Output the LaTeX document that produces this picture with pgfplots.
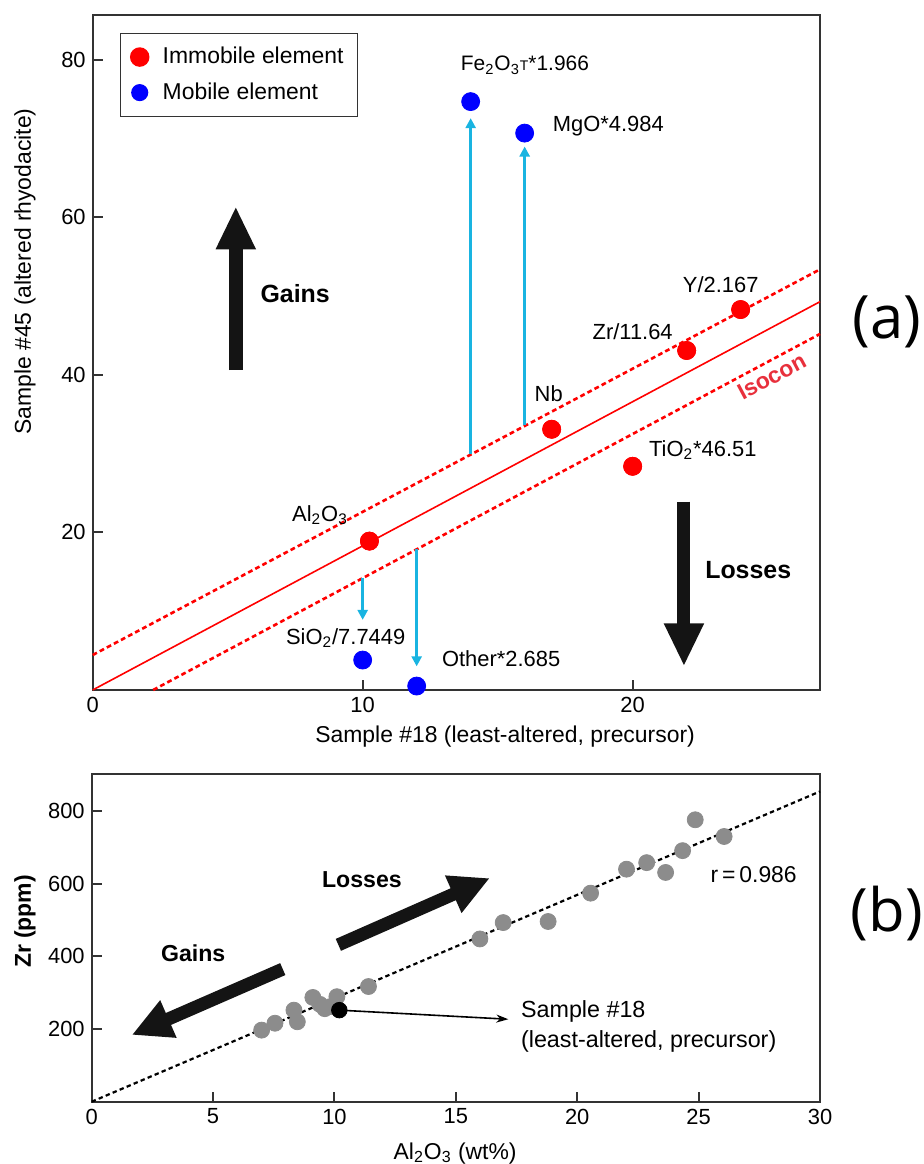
\documentclass[border=0pt]{standalone}
\usepackage{pgfplots}
\pgfplotsset{compat=1.18}
\usetikzlibrary{arrows.meta}
\usepackage{fontspec}
\setmainfont{Liberation Sans}
\newfontfamily\opensans{Open Sans}
\newcommand{\fs}[1]{\fontsize{#1}{#1}\selectfont}
\definecolor{arrcyan}{RGB}{25,180,225}
\definecolor{isored}{RGB}{232,48,60}
\definecolor{ptgray}{RGB}{140,140,140}
\definecolor{bigarr}{RGB}{20,20,20}

\pgfplotsset{
  common/.style={
    scale only axis, anchor=south west, clip=false,
    tick pos=left, tick align=inside,
    major tick length=5bp,
    axis line style={line width=1bp, black!80},
    every tick/.style={line width=1bp, black!80},
    tick label style={font=\fs{11}},
    /pgf/number format/assume math mode=true,
    label style={font=\fs{11.5}},
  }
}

\begin{document}
\begin{tikzpicture}[x=1bp,y=1bp]
\useasboundingbox (0,0) rectangle (462,582);

% ---------------- panel (a)
\begin{axis}[common,
  at={(46.35bp,237bp)}, width=363.65bp, height=337.5bp,
  xmin=0, xmax=26.94, ymin=0, ymax=85.7,
  xtick={0,10,20}, ytick={20,40,60,80},
  xlabel={Sample \#18 (least-altered, precursor)},
  ylabel={Sample \#45 (altered rhyodacite)},
  xlabel style={at={(axis description cs:0.567,-0.069)}, anchor=center},
  ylabel style={at={(axis description cs:-0.093,0.62)}, anchor=center},
  legend style={at={(axis description cs:0.0375,0.974)}, anchor=north west,
    draw=black!80, line width=0.75bp, font=\fs{11.5},
    inner xsep=5bp, inner ysep=5bp, row sep=4bp},
  legend cell align=left,
]
\addplot[only marks, mark=*, mark size=4.5bp, red] coordinates
  {(10.25,18.9) (17,33.1) (20,28.4) (22,43.1) (24,48.3)};
\addlegendentry{\hspace{5bp}Immobile element\hspace{3bp}}
\addplot[only marks, mark=*, mark size=3.9bp, blue] coordinates
  {(14,74.7) (16,70.7) (10,3.8) (12,0.5)};
\addlegendentry{\hspace{5bp}Mobile element}

% isocon lines
\addplot[forget plot, red, line width=0.8bp] coordinates {(0,0) (26.94,49.3)};
\addplot[forget plot, red, line width=1.3bp, dash pattern=on 2.4bp off 1.6bp] coordinates {(0,4.44) (26.94,53.4)};
\addplot[forget plot, red, line width=1.3bp, dash pattern=on 2.4bp off 1.6bp] coordinates {(2.24,0) (26.94,45.2)};

% cyan arrows
\addplot[forget plot, arrcyan, line width=1.5bp, -{Triangle[width=5bp,length=5bp]}] coordinates {(14,29.9) (14,72.6)};
\addplot[forget plot, arrcyan, line width=1.5bp, -{Triangle[width=5bp,length=5bp]}] coordinates {(16,33.6) (16,69.0)};
\addplot[forget plot, arrcyan, line width=1.5bp, -{Triangle[width=5bp,length=5bp]}] coordinates {(10,14.2) (10,8.9)};
\addplot[forget plot, arrcyan, line width=1.5bp, -{Triangle[width=5bp,length=5bp]}] coordinates {(12,17.9) (12,3.0)};

% replot points on top
\addplot[forget plot, only marks, mark=*, mark size=4.5bp, red] coordinates
  {(10.25,18.9) (17,33.1) (20,28.4) (22,43.1) (24,48.3)};
\addplot[forget plot, only marks, mark=*, mark size=4.5bp, blue] coordinates
  {(14,74.7) (16,70.7) (10,3.8) (12,0.5)};

% big arrows
\addplot[forget plot, bigarr, line width=7bp, -{Triangle[width=18.5bp,length=21.5bp]}] coordinates {(5.3,40.6) (5.3,61.4)};
\addplot[forget plot, bigarr, line width=6.5bp, -{Triangle[width=18.5bp,length=21.5bp]}] coordinates {(21.9,23.9) (21.9,3.0)};

% labels
\node[font=\fs{10.5}] at (axis cs:16.01,79.3) {Fe\textsubscript{2}O\textsubscript{3}{\fs{7}T}*1.966};
\node[font=\fs{11}] at (axis cs:19.1,71.6) {MgO*4.984};
\node[font=\fs{11}] at (axis cs:23.26,51.4) {Y/2.167};
\node[font=\fs{11}] at (axis cs:20.0,45.5) {Zr/11.64};
\node[font=\fs{11}] at (axis cs:16.89,37.65) {Nb};
\node[font=\fs{11}] at (axis cs:22.6,30.5) {TiO\textsubscript{2}*46.51};
\node[font=\fs{11}] at (axis cs:8.42,22.2) {Al\textsubscript{2}O\textsubscript{3}};
\node[font=\fs{11}] at (axis cs:9.37,6.56) {SiO\textsubscript{2}/7.7449};
\node[font=\fs{11}] at (axis cs:15.13,4.02) {Other*2.685};
\node[font=\bfseries\fs{12.5}] at (axis cs:7.5,50.35) {Gains};
\node[font=\bfseries\fs{12.5}] at (axis cs:24.28,15.2) {Losses};
\node[font=\bfseries\fs{11.5}, text=isored, rotate=28.1, inner sep=0pt] at (axis cs:25.15,39.8) {Isocon};
\node[font=\opensans\fs{30}] at (axis description cs:1.0917,0.545) {(a)};
\end{axis}

% ---------------- panel (b)
\begin{axis}[common,
  at={(45.85bp,31.15bp)}, width=364.15bp, height=163.85bp,
  xmin=0, xmax=30, ymin=0, ymax=902,
  xtick={0,5,10,15,20,25,30}, ytick={200,400,600,800},
  xlabel={Al\textsubscript{2}O\textsubscript{3} (wt\%)},
  ylabel={\bfseries Zr (ppm)},
  xlabel style={at={(axis description cs:0.499,-0.157)}, anchor=center},
  ylabel style={at={(axis description cs:-0.0916,0.55)}, anchor=center},
]
\addplot[black, line width=1.1bp, dash pattern=on 2.2bp off 1.6bp] coordinates {(0,0) (30,854)};
\addplot[only marks, mark=*, mark size=4bp, ptgray, mark options={draw=ptgray, fill=ptgray}] coordinates {
 (7.0,197) (7.55,216) (8.33,252) (8.47,220) (9.11,287) (9.4,268) (9.6,256)
 (9.85,262) (10.1,289) (11.4,317) (15.99,448) (16.95,493) (18.8,496)
 (20.55,574) (22.03,640) (22.86,658) (23.64,631) (24.34,691) (24.86,776) (26.05,730)};
\addplot[black, line width=0.8bp, -{Stealth[length=6bp,width=4bp]}] coordinates {(10.2,252) (17.16,227)};
\addplot[only marks, mark=*, mark size=3.9bp, black] coordinates {(10.2,252)};

\addplot[bigarr, line width=6.5bp, -{Triangle[width=19bp,length=20bp]}] coordinates {(10.16,431.7) (16.4,615.4)};
\addplot[bigarr, line width=6.5bp, -{Triangle[width=19bp,length=20bp]}] coordinates {(7.87,365) (1.65,183.7)};

\node[font=\bfseries\fs{11.6}] at (axis cs:11.13,610.7) {Losses};
\node[font=\bfseries\fs{11.6}] at (axis cs:4.18,408.8) {Gains};
\node[font=\fs{11.5}] at (axis cs:27.27,624.5) {r\,=\,0.986};
\node[font=\fs{11.7}, anchor=west, inner sep=0pt] at (axis cs:17.67,248) {Sample \#18};
\node[font=\fs{11.7}, anchor=west, inner sep=0pt] at (axis cs:17.67,165) {(least-altered, precursor)};
\node[font=\opensans\fs{30}] at (axis description cs:1.0916,0.573) {(b)};
\end{axis}
\end{tikzpicture}
\end{document}
